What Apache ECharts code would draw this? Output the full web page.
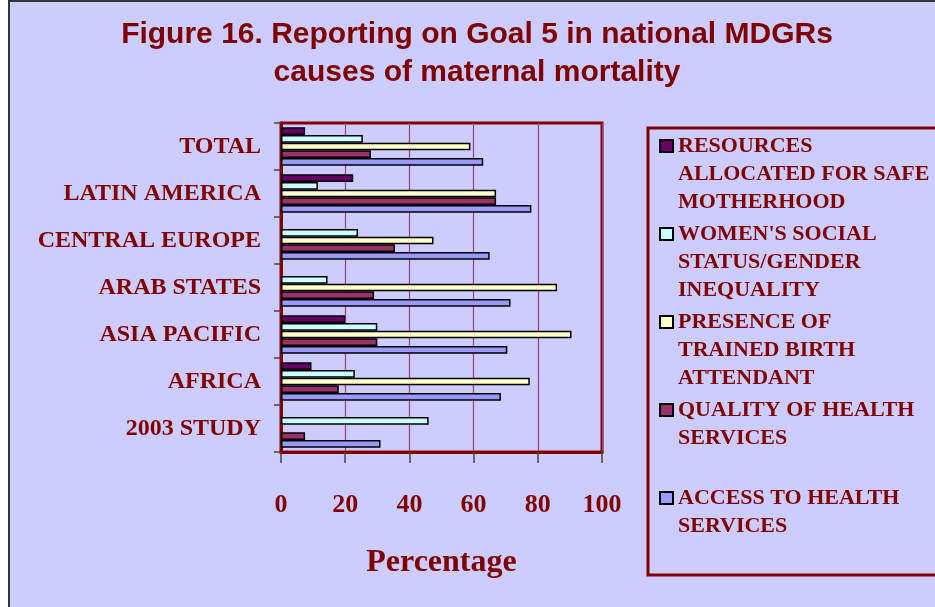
<!DOCTYPE html>
<html>
<head>
<meta charset="utf-8">
<script src="https://cdn.jsdelivr.net/npm/echarts@6/dist/echarts.min.js"></script>
<style>
  html, body { margin: 0; padding: 0; background: #fff; }
  #frame {
    position: absolute; left: 8px; top: 0; width: 927px; height: 607px;
    box-sizing: border-box; border-left: 2px solid #333; border-top: 2px solid #333;
    background: #CCCCFF;
  }
  #chart { position: absolute; left: 0; top: 0; width: 935px; height: 607px; }
</style>
</head>
<body>
<div id="frame"></div>
<div id="chart"></div>
<script>
// categories listed bottom-to-top (ECharts category y axis starts at the bottom)
const regions = ["2003 STUDY", "AFRICA", "ASIA PACIFIC", "ARAB STATES", "CENTRAL EUROPE", "LATIN AMERICA", "TOTAL"];
const xTicks = [0, 20, 40, 60, 80, 100];

const resources = [null, 9.5, 20, null, null, 22.5, 7.5];
const womensStatus = [46, 23, 30, 14.5, 24, 11.5, 25.5];
const birthAttendant = [null, 77.5, 90.5, 86, 47.5, 67, 59];
const qualityServices = [7.5, 18, 30, 29, 35.5, 67, 28];
const accessServices = [31, 68.5, 70.5, 71.5, 65, 78, 63];

const seriesNames = [
  "RESOURCES\nALLOCATED FOR SAFE\nMOTHERHOOD",
  "WOMEN'S SOCIAL\nSTATUS/GENDER\nINEQUALITY",
  "PRESENCE OF\nTRAINED BIRTH\nATTENDANT",
  "QUALITY OF HEALTH\nSERVICES\n ",
  "ACCESS TO HEALTH\nSERVICES\n ",
];
const seriesColors = ["#660066", "#CCFFFF", "#FFFFCC", "#993366", "#9999FF"];
const seriesData = [resources, womensStatus, birthAttendant, qualityServices, accessServices];

const RED = "#800000";
const SERIF = "'Liberation Serif', 'Times New Roman', serif";

const chart = echarts.init(document.getElementById("chart"), null, { renderer: "canvas" });

const series = seriesNames.map((name, i) => ({
  name,
  type: "bar",
  data: seriesData[i],
  barGap: "0%",
  barCategoryGap: "18%",
  itemStyle: { color: seriesColors[i], borderColor: "#000", borderWidth: 1.5 },
}));

chart.setOption({
  backgroundColor: "transparent",
  animation: false,
  title: {
    text: "Figure 16. Reporting on Goal 5 in national MDGRs\ncauses of maternal mortality",
    left: 477,
    top: 16,
    padding: 0,
    textAlign: "center",
    textStyle: {
      fontFamily: "'Liberation Sans Narrow', 'Liberation Sans', Arial, sans-serif",
      fontWeight: "bold",
      fontSize: 30,
      lineHeight: 38,
      color: RED,
    },
  },
  legend: {
    orient: "vertical",
    left: 659,
    top: 76,
    padding: 0,
    itemGap: -52,
    itemWidth: 13,
    itemHeight: 12,
    icon: "rect",
    data: seriesNames,
    // two blank lines on top keep the icon level with the first text line
    formatter: (name) => " \n \n" + name,
    textStyle: {
      fontFamily: SERIF,
      fontWeight: "bold",
      fontSize: 22,
      lineHeight: 28,
      color: RED,
    },
  },
  grid: {
    left: 281,
    right: 333,
    top: 123,
    bottom: 155,
    show: true,
    borderColor: RED,
    borderWidth: 3,
    backgroundColor: "transparent",
  },
  xAxis: {
    type: "value",
    min: xTicks[0],
    max: xTicks[xTicks.length - 1],
    interval: 20,
    name: "Percentage",
    nameLocation: "middle",
    nameGap: 95,
    nameTextStyle: { fontFamily: SERIF, fontWeight: "bold", fontSize: 32, color: RED },
    axisLine: { show: true, lineStyle: { color: RED, width: 3 } },
    axisTick: { show: true, length: 11, lineStyle: { color: "#444", width: 1.5 } },
    axisLabel: { margin: 40, fontFamily: SERIF, fontWeight: "bold", fontSize: 26, color: RED },
    splitLine: { show: true, lineStyle: { color: "#A0406A", width: 1.2 } },
  },
  yAxis: {
    type: "category",
    data: regions,
    axisLine: { show: true, lineStyle: { color: RED, width: 3 } },
    axisTick: { show: true, length: 7, lineStyle: { color: "#444", width: 1.5 } },
    axisLabel: { margin: 20, fontFamily: SERIF, fontWeight: "bold", fontSize: 24, color: RED },
  },
  graphic: [{
    type: "rect",
    shape: { x: 648, y: 128, width: 300, height: 447 },
    style: { fill: "transparent", stroke: RED, lineWidth: 3 },
    silent: true,
  }],
  series,
});
</script>
</body>
</html>
